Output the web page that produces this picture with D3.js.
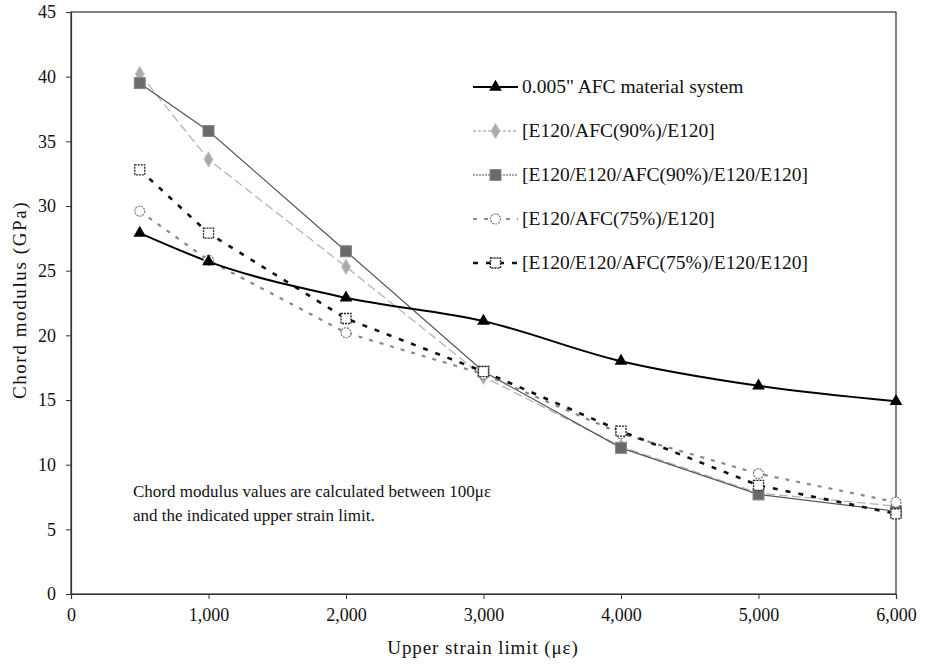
<!DOCTYPE html>
<html><head><meta charset="utf-8">
<script src="https://cdn.jsdelivr.net/npm/d3@7"></script>
<style>body{margin:0;background:#fff}svg{font-family:"Liberation Serif","DejaVu Serif",serif}</style>
</head><body><svg id="c" width="925" height="664"></svg>
<script>
const strain = [500, 1000, 2000, 3000, 4000, 5000, 6000];
const seriesNames = ['0.005" AFC material system','[E120/AFC(90%)/E120]','[E120/E120/AFC(90%)/E120/E120]','[E120/AFC(75%)/E120]','[E120/E120/AFC(75%)/E120/E120]'];
const afc = [27.9, 25.7, 22.9, 21.1, 18.0, 16.1, 14.9];
const e90 = [40.2, 33.6, 25.3, 16.8, 11.4, 7.8, 6.8];
const ee90 = [39.5, 35.8, 26.5, 17.2, 11.3, 7.7, 6.4];
const e75 = [29.6, 25.8, 20.2, 17.0, 12.4, 9.3, 7.1];
const ee75 = [32.8, 27.9, 21.3, 17.2, 12.6, 8.4, 6.2];
const xTicks = [0, 1000, 2000, 3000, 4000, 5000, 6000];
const yTicks = [0, 5, 10, 15, 20, 25, 30, 35, 40, 45];

const svg = d3.select('#c');
const L = 71, T = 12, R = 896, B = 594;
const x = d3.scaleLinear().domain([0, 6000]).range([L, R]);
const y = d3.scaleLinear().domain([0, 45]).range([B, T]);

svg.append('rect').attr('x', L).attr('y', T).attr('width', R - L).attr('height', B - T)
  .attr('fill', 'none').attr('stroke', '#333').attr('stroke-width', 1.2);

const fmt = d3.format(',');
const xa = svg.append('g').attr('transform', `translate(0,${B})`)
  .call(d3.axisBottom(x).tickValues(xTicks).tickFormat(fmt).tickSize(5).tickPadding(9));
const ya = svg.append('g').attr('transform', `translate(${L},0)`)
  .call(d3.axisLeft(y).tickValues(yTicks).tickSize(5).tickPadding(10));
[xa, ya].forEach(a => {
  a.select('.domain').attr('stroke', '#333').attr('stroke-width', 1.2);
  a.selectAll('.tick line').attr('stroke', '#333');
  a.selectAll('text').attr('font-family', '"Liberation Serif",serif').attr('font-size', 18).attr('fill', '#111');
});

svg.append('text').attr('x', 483).attr('y', 654).attr('text-anchor', 'middle')
  .attr('font-size', 19).attr('letter-spacing', 0.9).attr('fill', '#111').text('Upper strain limit (με)');
svg.append('text').attr('transform', 'translate(26,300) rotate(-90)').attr('text-anchor', 'middle')
  .attr('font-size', 19).attr('letter-spacing', 1.6).attr('fill', '#111').text('Chord modulus (GPa)');

svg.append('text').attr('x', 133).attr('y', 497).attr('font-size', 17).attr('fill', '#111')
  .text('Chord modulus values are calculated between 100με');
svg.append('text').attr('x', 133).attr('y', 521).attr('font-size', 17).attr('fill', '#111')
  .text('and the indicated upper strain limit.');

const styles = [
  {vals: afc, stroke: '#000', w: 2, dash: null, curve: d3.curveMonotoneX, marker: 'tri'},
  {vals: e90, stroke: '#b5b5b5', w: 1.3, dash: '9,4', curve: d3.curveLinear, marker: 'dia'},
  {vals: ee90, stroke: '#555', w: 1.2, dash: null, curve: d3.curveLinear, marker: 'sq'},
  {vals: e75, stroke: '#8a8a8a', w: 2.2, dash: '4,7', curve: d3.curveLinear, marker: 'circ'},
  {vals: ee75, stroke: '#111', w: 2.6, dash: '5,8', curve: d3.curveLinear, marker: 'osq'}
];

function drawMarker(g, type, cx, cy) {
  if (type === 'tri') {
    g.append('path').attr('d', d3.symbol(d3.symbolTriangle, 70)()).attr('transform', `translate(${cx},${cy})`).attr('fill', '#000');
  } else if (type === 'dia') {
    g.append('path').attr('d', d3.symbol(d3.symbolDiamond, 70)()).attr('transform', `translate(${cx},${cy})`).attr('fill', '#aaa').attr('stroke', '#c8c8c8');
  } else if (type === 'sq') {
    g.append('rect').attr('x', cx - 5.5).attr('y', cy - 5.5).attr('width', 11).attr('height', 11).attr('fill', '#6a6a6a').attr('stroke', '#888');
  } else if (type === 'circ') {
    g.append('circle').attr('cx', cx).attr('cy', cy).attr('r', 5).attr('fill', '#fff').attr('stroke', '#777').attr('stroke-width', 1.2).attr('stroke-dasharray', '2,1');
  } else if (type === 'osq') {
    g.append('rect').attr('x', cx - 5).attr('y', cy - 5).attr('width', 10).attr('height', 10).attr('fill', '#fff').attr('stroke', '#222').attr('stroke-width', 1.3).attr('stroke-dasharray', '2,1');
  }
}

const order = [1, 2, 3, 4, 0];
order.forEach(i => {
  const s = styles[i];
  const line = d3.line().x((d, j) => x(strain[j])).y(d => y(d)).curve(s.curve);
  svg.append('path').datum(s.vals).attr('d', line).attr('fill', 'none')
    .attr('stroke', s.stroke).attr('stroke-width', s.w).attr('stroke-dasharray', s.dash);
});
order.forEach(i => {
  const s = styles[i];
  const g = svg.append('g');
  s.vals.forEach((v, j) => drawMarker(g, s.marker, x(strain[j]), y(v)));
});

const lg = svg.append('g');
seriesNames.forEach((name, i) => {
  const s = styles[i];
  const cy = 87 + i * 44;
  lg.append('line').attr('x1', 473).attr('x2', 518).attr('y1', cy).attr('y2', cy)
    .attr('stroke', s.stroke).attr('stroke-width', s.w).attr('stroke-dasharray', s.dash ? (i === 1 ? '3,2' : s.dash) : (i === 2 ? '2,1' : null));
  drawMarker(lg, s.marker, 495.5, cy);
  lg.append('text').attr('x', 522).attr('y', cy + 6).attr('font-size', 19.5).attr('fill', '#111').text(name);
});
</script></body></html>
